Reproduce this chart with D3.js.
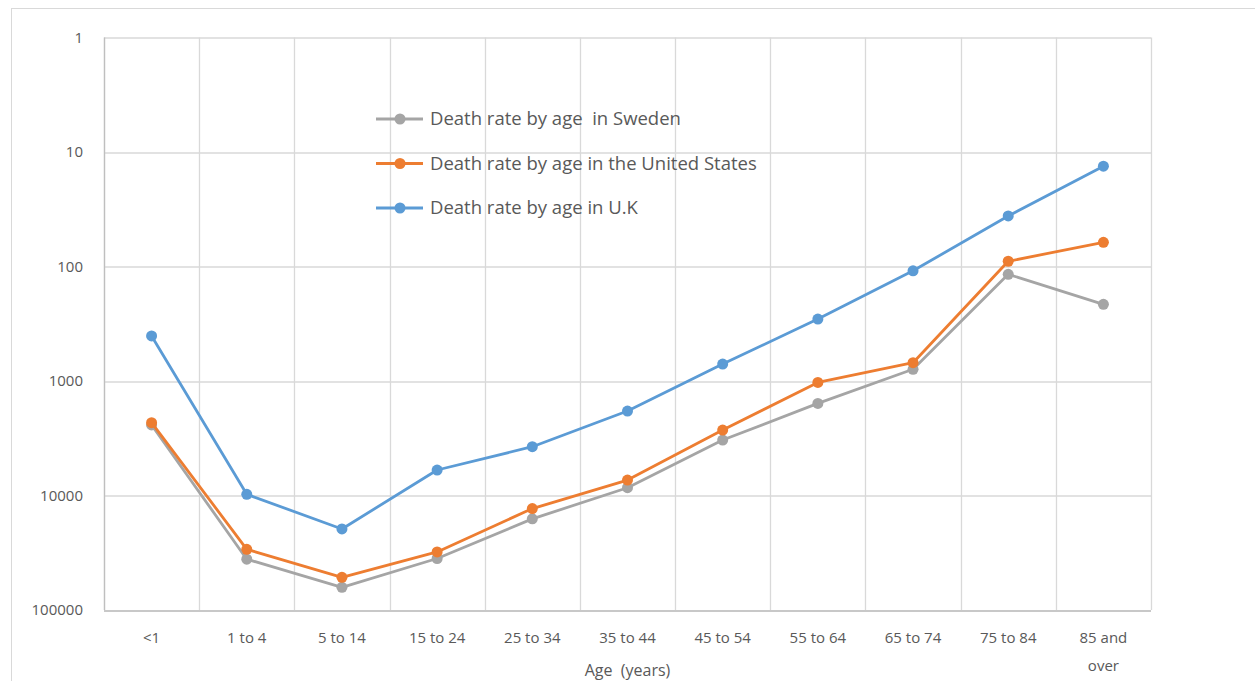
<!DOCTYPE html>
<html>
<head>
<meta charset="utf-8">
<script src="https://cdn.jsdelivr.net/npm/d3@7"></script>
<style>
  body { margin: 0; background: #fff; }
  text { font-family: "Open Sans", sans-serif; fill: #595959; white-space: pre; }
</style>
</head>
<body>
<div id="wrapper"></div>
<script>
// Data
const ageGroups = ["<1", "1 to 4", "5 to 14", "15 to 24", "25 to 34", "35 to 44",
  "45 to 54", "55 to 64", "65 to 74", "75 to 84", "85 and over"]
const swedenValues = [2420, 36000, 63400, 35500, 16000, 8550, 3280, 1570, 790, 117, 214]
const usValues = [2310, 29500, 51800, 31100, 13000, 7330, 2680, 1030, 692, 90, 61.5]
const ukValues = [404, 9770, 19600, 5990, 3750, 1830, 711, 288, 109, 36.2, 13.3]
const yTicks = [1, 10, 100, 1000, 10000, 100000]
const seriesNames = [
  "Death rate by age  in Sweden",
  "Death rate by age in the United States",
  "Death rate by age in U.K",
]
const seriesColors = ["#A5A5A5", "#ED7D31", "#5B9BD5"]
const series = [swedenValues, usValues, ukValues]

// dimensions
const dimensions = {
  width: 1255,
  height: 681,
  margin: { top: 37.5, right: 104, bottom: 71, left: 104 },
}
dimensions.boundedWidth = dimensions.width - dimensions.margin.left - dimensions.margin.right
dimensions.boundedHeight = dimensions.height - dimensions.margin.top - dimensions.margin.bottom

const wrapper = d3.select("#wrapper")
  .append("svg")
    .attr("width", dimensions.width)
    .attr("height", dimensions.height)

// outer chart border
wrapper.append("rect")
  .attr("x", 11.5)
  .attr("y", 8.5)
  .attr("width", 1300)
  .attr("height", 700)
  .attr("fill", "none")
  .attr("stroke", "#D9D9D9")

const bounds = wrapper.append("g")
  .attr("transform", `translate(${dimensions.margin.left}, ${dimensions.margin.top})`)

// scales
const xScale = d3.scaleBand()
  .domain(ageGroups)
  .range([0, dimensions.boundedWidth])

const yScale = d3.scaleLog()
  .domain([1, 100000])
  .range([0, dimensions.boundedHeight])

// gridlines
const grid = bounds.append("g")
grid.selectAll(".hgrid")
  .data(yTicks)
  .enter().append("line")
    .attr("x1", 0)
    .attr("x2", dimensions.boundedWidth)
    .attr("y1", d => Math.round(yScale(d)) + 0.5)
    .attr("y2", d => Math.round(yScale(d)) + 0.5)
    .attr("stroke", "#D9D9D9")
    .attr("stroke-width", 1.3)
grid.selectAll(".vgrid")
  .data(d3.range(ageGroups.length + 1))
  .enter().append("line")
    .attr("x1", i => Math.round(i * xScale.step()) + 0.5)
    .attr("x2", i => Math.round(i * xScale.step()) + 0.5)
    .attr("y1", 0)
    .attr("y2", dimensions.boundedHeight)
    .attr("stroke", "#D9D9D9")
    .attr("stroke-width", 1.3)

// axes lines
bounds.append("line")
  .attr("x1", 0.5).attr("x2", 0.5)
  .attr("y1", 0).attr("y2", dimensions.boundedHeight)
  .attr("stroke", "#BFBFBF").attr("stroke-width", 1.3)
bounds.append("line")
  .attr("x1", 0).attr("x2", dimensions.boundedWidth)
  .attr("y1", Math.round(dimensions.boundedHeight) + 0.5)
  .attr("y2", Math.round(dimensions.boundedHeight) + 0.5)
  .attr("stroke", "#BFBFBF").attr("stroke-width", 1.3)

// y tick labels
bounds.selectAll(".y-label")
  .data(yTicks)
  .enter().append("text")
    .attr("x", -21)
    .attr("y", d => yScale(d))
    .attr("dy", "0.35em")
    .attr("text-anchor", "end")
    .style("font-size", "15px")
    .text(d => d)

// x tick labels
const xLabels = bounds.selectAll(".x-label")
  .data(ageGroups)
  .enter().append("text")
    .attr("text-anchor", "middle")
    .attr("y", dimensions.boundedHeight + 33)
    .style("font-size", "15px")
xLabels.each(function(d) {
  const lines = d == "85 and over" ? ["85 and", "over"] : [d]
  lines.forEach((line, i) => {
    d3.select(this).append("tspan")
      .attr("x", xScale(d) + xScale.bandwidth() / 2)
      .attr("dy", i == 0 ? 0 : 28)
      .text(line)
  })
})

// axis title
bounds.append("text")
  .attr("x", dimensions.boundedWidth / 2)
  .attr("y", dimensions.boundedHeight + 66)
  .attr("text-anchor", "middle")
  .style("font-size", "16px")
  .text("Age  (years)")

// lines
const lineGenerator = d3.line()
  .x((d, i) => xScale(ageGroups[i]) + xScale.bandwidth() / 2)
  .y(d => yScale(d))

series.forEach((values, s) => {
  const g = bounds.append("g")
  g.append("path")
    .attr("d", lineGenerator(values))
    .attr("fill", "none")
    .attr("stroke", seriesColors[s])
    .attr("stroke-width", 2.8)
    .attr("stroke-linejoin", "round")
  g.selectAll("circle")
    .data(values)
    .enter().append("circle")
      .attr("cx", (d, i) => xScale(ageGroups[i]) + xScale.bandwidth() / 2)
      .attr("cy", d => yScale(d))
      .attr("r", 5.5)
      .attr("fill", seriesColors[s])
})

// legend
const legend = wrapper.append("g")
  .attr("transform", "translate(376, 119)")
seriesNames.forEach((name, i) => {
  const item = legend.append("g")
    .attr("transform", `translate(0, ${i * 44.5})`)
  item.append("line")
    .attr("x1", 0).attr("x2", 47)
    .attr("stroke", seriesColors[i])
    .attr("stroke-width", 2.8)
  item.append("circle")
    .attr("cx", 24)
    .attr("r", 5.5)
    .attr("fill", seriesColors[i])
  item.append("text")
    .attr("x", 54)
    .attr("dy", "0.35em")
    .style("font-size", "18.5px")
    .text(name)
})
</script>
</body>
</html>
